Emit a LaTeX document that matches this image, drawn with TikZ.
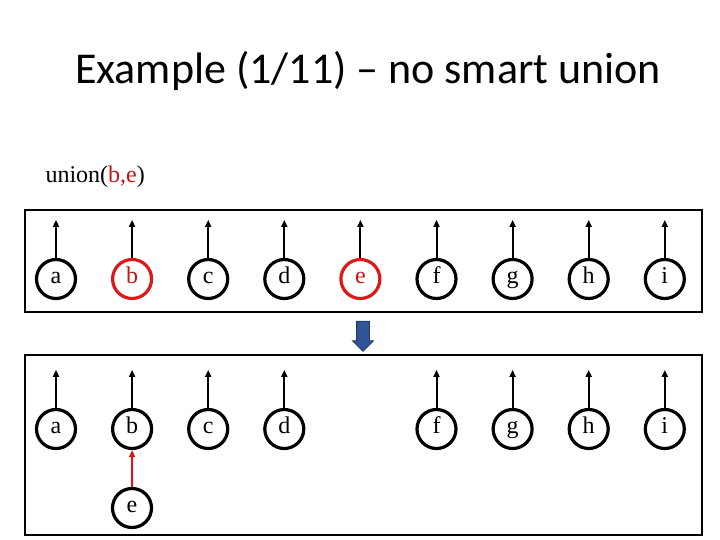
\documentclass[tikz,border=0pt]{standalone}
\usepackage{fontspec}
\setmainfont{Liberation Serif}
\newfontfamily\titlefont{Carlito}
\usetikzlibrary{arrows.meta, shapes.arrows, positioning}
\definecolor{redline}{RGB}{222,24,24}
\definecolor{redtext}{RGB}{196,20,20}
\definecolor{arrowblue}{RGB}{47,85,151}
\definecolor{arrowedge}{RGB}{31,56,100}

\begin{document}
\begin{tikzpicture}[x=1pt, y=-1pt,
    elem/.style={circle, draw, line width=3.2pt, minimum size=39pt, inner sep=0pt,
                 text height=13pt, text depth=5pt,
                 font=\fontsize{24}{24}\selectfont},
    marked/.style={elem, draw=redline, text=redtext},
    ptr/.style={-{Triangle[length=7pt, width=6pt]}, line width=2pt},
    panel/.style={draw, line width=1.2pt}
  ]
  \useasboundingbox (0,0) rectangle (720,540);

  \node[font=\titlefont\fontsize{44}{44}\selectfont, anchor=base] (title) at (368,84)
    {Example (1/11) – no smart union};
  \node[font=\fontsize{24}{24}\selectfont, anchor=base west] (call) at (42,183)
    {union(\textcolor{redtext}{b,e})};

  \draw[panel] (25,210) rectangle (702,312); % vorher
  \draw[panel] (25,355) rectangle (702,535); % nachher

  % obere Reihe: jeder Knoten ist seine eigene Wurzel
  \foreach \n/\s [count=\i] in {a/elem, b/marked, c/elem, d/elem, e/marked,
                                f/elem, g/elem, h/elem, i/elem}
  {
    \node[\s] (top-\n) at ({56+76.1*(\i-1)},279) {\n};
    \coordinate[above=38pt of top-\n] (top-\n-up);
    \draw[ptr] (top-\n.north) -- (top-\n-up);
  }

  \node[single arrow, shape border rotate=270, fill=arrowblue, draw=arrowedge,
        line width=0.8pt, minimum height=30pt, minimum width=20pt,
        single arrow head extend=4pt, inner sep=6pt] (step-down) at (363,333) {};

  % untere Reihe: e haengt jetzt unter b
  \foreach \n [count=\i] in {a, b, c, d, e, f, g, h, i}
  {
    \ifnum\i=5\else
      \node[elem] (bot-\n) at ({56+76.1*(\i-1)},429) {\n};
      \coordinate[above=38pt of bot-\n] (bot-\n-up);
      \draw[ptr] (bot-\n.north) -- (bot-\n-up);
    \fi
  }
  \node[elem] (bot-e) at (132,508) {e};
  \draw[ptr, redline] (bot-e.north) -- (bot-b.south);
\end{tikzpicture}
\end{document}
